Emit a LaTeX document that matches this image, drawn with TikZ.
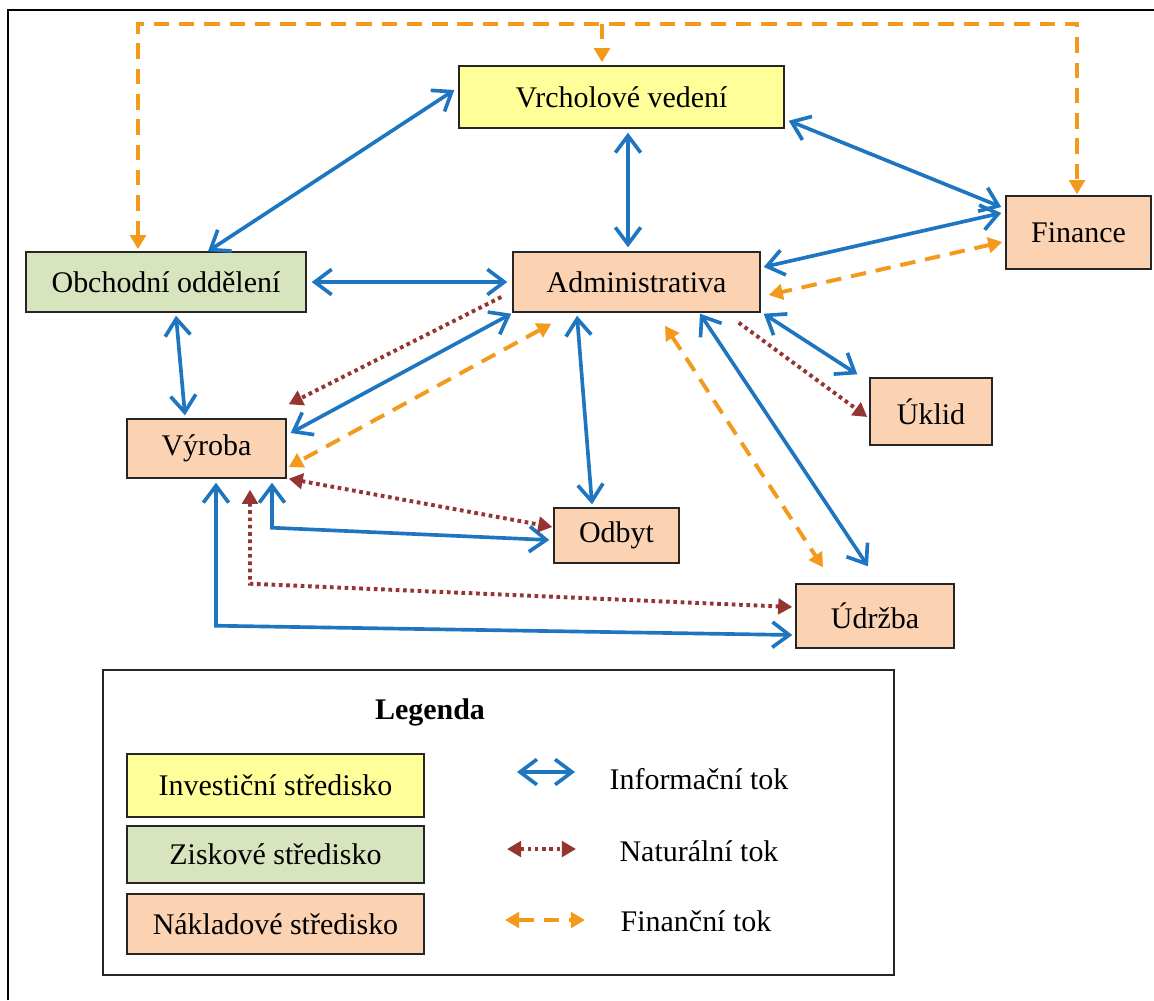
\documentclass[tikz,border=0pt]{standalone}
\usepackage{fontspec}
\setmainfont{Liberation Serif}
\usepackage{tikz}
\usetikzlibrary{arrows.meta}
\usetikzlibrary{calc}
\definecolor{infoblue}{RGB}{30,117,192}
\definecolor{natbrown}{RGB}{150,52,50}
\definecolor{finorange}{RGB}{243,153,28}
\definecolor{investfill}{RGB}{255,255,153}
\definecolor{profitfill}{RGB}{215,228,189}
\definecolor{costfill}{RGB}{251,210,178}
\tikzstyle{invest} = [rectangle, inner sep=0pt, text centered, draw=black!85, line width=1pt, fill=investfill, font=\fontsize{21.3}{25}\selectfont]
\tikzstyle{profit} = [rectangle, inner sep=0pt, text centered, draw=black!85, line width=1pt, fill=profitfill, font=\fontsize{21.3}{25}\selectfont]
\tikzstyle{cost} = [rectangle, inner sep=0pt, text centered, draw=black!85, line width=1pt, fill=costfill, font=\fontsize{21.3}{25}\selectfont]
\tikzstyle{legendtext} = [inner sep=0pt, font=\fontsize{21.3}{25}\selectfont]
\tikzstyle{info} = [line width=2.6pt, draw=infoblue, >={Straight Barb[length=12pt,width=18pt]}]
\tikzstyle{natural} = [line width=2.8pt, draw=natbrown, dash pattern=on 2.6pt off 2.6pt, >={Triangle[length=10pt,width=11pt]}, color=natbrown]
\tikzstyle{financial} = [line width=2.8pt, draw=finorange, dash pattern=on 11pt off 7pt, >={Triangle[length=10pt,width=11pt]}, color=finorange]

\begin{document}
\begin{tikzpicture}[x=0.025cm, y=-0.025cm]
        \useasboundingbox (0,0) rectangle (1154,1000);
        \draw[line width=1.4pt] (8,1000) -- (8,10) -- (1154,10);

        \node[invest, minimum width=8.125cm, minimum height=1.55cm] (vrchol) at (621.5,97) {Vrcholové vedení};
        \node[cost, minimum width=3.625cm, minimum height=1.825cm] (fin) at (1078.5,232.5) {Finance};
        \node[profit, minimum width=7cm, minimum height=1.5cm] (obch) at (166,282) {Obchodní oddělení};
        \node[cost, minimum width=6.175cm, minimum height=1.5cm] (admin) at (636.5,282) {Administrativa};
        \node[cost, minimum width=3.975cm, minimum height=1.475cm] (vyroba) at (206.5,448.5) {Výroba};
        \node[cost, minimum width=3.05cm, minimum height=1.675cm] (uklid) at (931,411.5) {Úklid};
        \node[cost, minimum width=3.125cm, minimum height=1.375cm] (odbyt) at (616.5,535.5) {Odbyt};
        \node[cost, minimum width=3.95cm, minimum height=1.6cm] (udrzba) at (875,616) {Údržba};
        \coordinate (ftop) at (602,24);

        \draw[info,<->] ($(vrchol.west)+(-4,-7)$) -- ($(obch.north)+(42,0)$);
        \draw[info,<->] ($(vrchol.south)+(6.5,4)$) -- ($(admin.north)+(-8.5,-4)$);
        \draw[info,<->] ($(vrchol.south east)+(4,-8)$) -- ($(fin.west)+(-4,-25.5)$);
        \draw[info,<->] ($(fin.west)+(-4,-19.5)$) -- ($(admin.east)+(3,-15)$);
        \draw[info,<->] ($(obch.east)+(5,0)$) -- ($(admin.west)+(-5,0)$);
        \draw[info,<->] ($(obch.south)+(10,3)$) -- ($(vyroba.north)+(-21.5,-3)$);
        \draw[info,<->] ($(admin.south west)+(-1,1)$) -- ($(vyroba.east)+(4,-15.5)$);
        \draw[info,<->] ($(admin.south)+(-59.5,3)$) -- ($(odbyt.north)+(-24.5,-3)$);
        \draw[info,<->] ($(admin.south east)+(3,1)$) -- ($(uklid.north west)+(-12,-3)$);
        \draw[info,<->] ($(admin.south)+(63.5,1)$) -- ($(udrzba.north)+(-7,-17)$);
        \draw[info,<->] ($(vyroba.south)+(65.5,4)$) -- ++(0,45) -- ($(odbyt.west)+(-4,4.5)$);
        \draw[info,<->] ($(vyroba.south)+(9.5,4)$) -- ++(0,143) -- ($(udrzba.west)+(-3,19)$);

        \draw[natural,->] ($(admin.west)+(-11,15)$) -- ($(vyroba.north east)+(2,-14)$);
        \draw[natural,->] ($(admin.south east)+(-22,10)$) -- ($(uklid.west)+(-2,5.5)$);
        \draw[natural,<->] ($(vyroba.south east)+(2,0)$) -- ($(odbyt.west)+(-1,-8.5)$);
        \draw[natural,<->] ($(vyroba.south)+(43.5,11)$) -- ++(0,94) -- ($(udrzba.west)+(-3,-9)$);

        \draw[financial,<->] ($(obch.north)+(-28,-2)$) |- (ftop) -| ($(fin.north)+(-1.5,-1)$);
        \draw[financial,->] (ftop) -- ($(vrchol.north)+(-19.5,-3)$);
        \draw[financial,<->] ($(fin.west)+(-3,9.5)$) -- ($(admin.east)+(8,13)$);
        \draw[financial,<->] ($(admin.south west)+(39,11)$) -- ($(vyroba.east)+(2,18.5)$);
        \draw[financial,<->] ($(admin.south)+(28.5,13)$) -- ($(udrzba.north)+(-52,-16)$);

        \node[draw=black!85, line width=1.2pt, minimum width=19.775cm, minimum height=7.625cm] (legbox) at (498.5,822.5) {};
        \node[legendtext] (legtitle) at (430,712) {\textbf{Legenda}};
        \node[invest, minimum width=7.425cm, minimum height=1.575cm] (leginvest) at (275.5,785.5) {Investiční středisko};
        \node[profit, minimum width=7.425cm, minimum height=1.425cm] (legprofit) at (275.5,854.5) {Ziskové středisko};
        \node[cost, minimum width=7.425cm, minimum height=1.5cm] (legcost) at (275.5,924) {Nákladové středisko};
        \node[legendtext] (infotext) at (699,779) {Informační tok};
        \node[legendtext] (nattext) at (699,851) {Naturální tok};
        \node[legendtext] (fintext) at (696,921) {Finanční tok};
        \coordinate (infoa) at (517,772);
        \coordinate (infob) at (575,772);
        \coordinate (nata) at (507,849);
        \coordinate (natb) at (576,849);
        \coordinate (fina) at (505,920);
        \coordinate (finb) at (585,920);
        \draw[info,<->] (infoa) -- (infob);
        \draw[natural,<->] (nata) -- (natb);
        \draw[financial,<->] (fina) -- (finb);
\end{tikzpicture}
\end{document}
